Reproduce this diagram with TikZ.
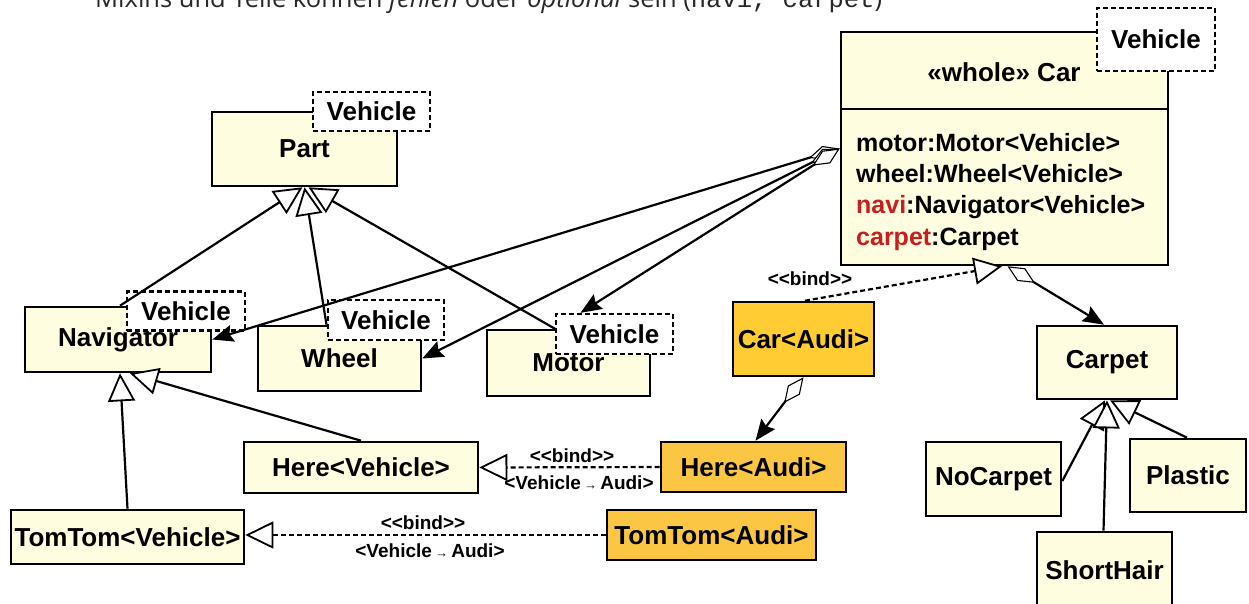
\documentclass[tikz,border=0pt]{standalone}
\usepackage{fontspec}
\setmainfont{Liberation Sans}[Ligatures=TeXOff]
\newfontfamily\topfont{Open Sans}
\newfontfamily\topmono{Liberation Mono}
\usetikzlibrary{arrows.meta,calc}
\definecolor{clsfill}{RGB}{255,253,223}
\definecolor{audifill}{RGB}{255,204,51}
\definecolor{audifillb}{RGB}{250,198,68}
\definecolor{attrred}{RGB}{200,30,30}
\definecolor{topgray}{RGB}{40,40,40}
\newcommand{\smallarr}{\,\raisebox{0pt}{\fontsize{13}{13}\selectfont →}\,}
\begin{document}
\begin{tikzpicture}[x=1pt,y=-1pt,
  wh/.style 2 args={minimum width=#1pt, minimum height=#2pt},
  cls/.style={draw, line width=2.6pt, fill=clsfill, inner sep=0pt,
    font=\fontsize{26}{30}\selectfont\bfseries},
  audi/.style={cls, fill=audifill},
  audib/.style={cls, fill=audifillb},
  tmpl/.style={draw, dash pattern=on 5pt off 3pt, line width=2.3pt, fill=white,
    inner sep=0pt, font=\fontsize{26}{30}\selectfont\bfseries},
  attr/.style={anchor=base west, inner sep=0pt,
    font=\fontsize{25}{30}\selectfont\bfseries},
  lbl/.style={inner sep=0pt, font=\fontsize{19}{22}\selectfont\bfseries},
  gen/.style={line width=2.2pt,
    -{Triangle[open, fill=white, length=28pt, width=27pt, line width=1.8pt]}},
  bindline/.style={line width=2.2pt, dash pattern=on 5pt off 3pt,
    -{Triangle[open, fill=white, length=28pt, width=27pt, line width=1.8pt]}},
  agg/.style={line width=2.2pt,
    {Diamond[open, fill=white, length=32pt, width=15pt, line width=1.1pt]}-{Stealth[length=21pt, width=17pt, inset=3pt]}}
]
\useasboundingbox (0,0) rectangle (1249,603);

% caption line (clipped at the top)
\node[anchor=base west, inner sep=0pt, text=topgray,
  font=\topfont\fontsize{25.5}{28}\selectfont] (caption) at (95,7)
  {Mixins und Teile können \textit{fehlen} oder \textit{optional} sein ({\topmono navi, carpet})};

% classes
\node[cls, wh={185}{74}] (part) at (304.5,149) {Part};
\node[cls, wh={186}{65}] (nav) at (118,339.5) {Navigator};
\node[cls, wh={163}{65}] (wheel) at (339.5,358.5) {Wheel};
\node[cls, wh={163}{66}] (motor) at (568.5,363) {Motor};

\node[tmpl, wh={117}{39}] (partT) at (371.5,111.5) {Vehicle};
\node[tmpl, wh={118}{39}] (navT) at (186,311) {Vehicle};
\node[tmpl, wh={116}{40}] (wheelT) at (386,320) {Vehicle};
\node[tmpl, wh={117}{40}] (motorT) at (614.5,334) {Vehicle};

% Car
\node[cls, wh={327}{233}] (car) at (1004.5,148.5) {};
\draw[line width=2.6pt] (car.west |- 0,109) coordinate (cdl) -- (car.east |- 0,109) coordinate (cdr);
\node[inner sep=0pt, font=\fontsize{26}{30}\selectfont\bfseries] (cartitle) at (1004,72) {«whole» Car};
\node[attr] (a1) at (856,151) {motor:Motor<Vehicle>};
\node[attr] (a2) at (856,182) {wheel:Wheel<Vehicle>};
\node[attr] (a3) at (856,213) {\textcolor{attrred}{navi}:Navigator<Vehicle>};
\node[attr] (a4) at (856,245) {\textcolor{attrred}{carpet}:Carpet};
\node[tmpl, wh={118}{63}] (carT) at (1156,39.5) {Vehicle};

% bound classes
\node[audi, wh={141}{74}] (caraudi) at (803.5,339) {Car<Audi>};
\node[audib, wh={185}{50}] (hereaudi) at (753.5,467) {Here<Audi>};
\node[audib, wh={209}{50}] (tomaudi) at (711.5,535) {TomTom<Audi>};
\node[cls, wh={234}{51}] (herev) at (361,467.5) {Here<Vehicle>};
\node[cls, wh={233}{54}] (tomv) at (127.5,537) {TomTom<Vehicle>};

% carpets
\node[cls, wh={140}{73}] (carpet) at (1107,362.5) {Carpet};
\node[cls, wh={135}{74}] (nocarpet) at (993.5,479) {NoCarpet};
\node[cls, wh={116}{73}] (plastic) at (1188,475.5) {Plastic};
\node[cls, wh={135}{76}] (shorthair) at (1104.5,570) {ShortHair};

% generalisations to Part
\draw[gen] ([xshift=2pt]nav.north) -- ([xshift=-2pt]part.south);
\draw[gen] ([xshift=-13pt]wheel.north) -- (part.south);
\draw[gen] (motor.north -| motorT.west) -- ([xshift=4pt]part.south);

% aggregations from Car
\draw[agg] (car.west) -- (nav.east);
\draw[agg] (car.west) -- (wheel.east);
\draw[agg] (car.west) -- ([xshift=-34pt]motorT.north);

% Car<Audi> binds Car
\draw[bindline] ([xshift=1.5pt]caraudi.north) -- ([xshift=-2.5pt]car.south);
\node[lbl] (cb) at (810,279) {<<bind>>};

% Car -> Carpet
\draw[agg] ([xshift=3pt]car.south) -- ([xshift=-3pt]carpet.north);

% Car<Audi> -> Here<Audi>
\draw[agg] (caraudi.south) -- ([xshift=2pt]hereaudi.north);

% binds
\draw[bindline] (hereaudi.west) -- (herev.east);
\node[lbl] (hb1) at (572,456) {<<bind>>};
\node[lbl] (hb2) at (579,483) {<Vehicle\smallarr Audi>};
\draw[bindline] (tomaudi.west) -- (tomv.east |- tomaudi.west);
\node[lbl] (tb1) at (423,523) {<<bind>>};
\node[lbl] (tb2) at (430,551) {<Vehicle\smallarr Audi>};

% generalisations to Navigator
\draw[gen] (tomv.north) -- ([xshift=2pt]nav.south);
\draw[gen] (herev.north) -- ([xshift=12pt]nav.south);

% generalisations to Carpet
\draw[gen] ([yshift=-2pt]nocarpet.east) -- ([xshift=-2pt]carpet.south);
\draw[gen] ([xshift=-1pt]shorthair.north) -- (carpet.south);
\draw[gen] ([xshift=-1pt]plastic.north) -- ([xshift=3pt]carpet.south);
\end{tikzpicture}
\end{document}
